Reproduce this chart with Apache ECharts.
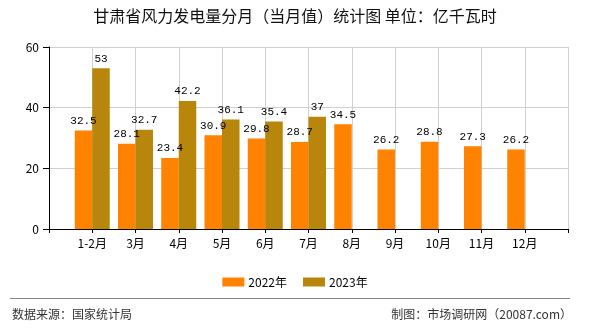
<!DOCTYPE html>
<html>
<head>
<meta charset="utf-8">
<script src="https://cdn.jsdelivr.net/npm/echarts@6/dist/echarts.min.js"></script>
<style>
html,body{margin:0;padding:0;background:#fff;}
#chart{width:590px;height:330px;}
</style>
</head>
<body>
<div id="chart"></div>
<script>
var categories = ['', '1-2月', '3月', '4月', '5月', '6月', '7月', '8月', '9月', '10月', '11月', '12月', ''];
var series2022 = ['-', 32.5, 28.1, 23.4, 30.9, 29.8, 28.7, 34.5, 26.2, 28.8, 27.3, 26.2, '-'];
var series2023 = ['-', 53, 32.7, 42.2, 36.1, 35.4, 37, '-', '-', '-', '-', '-', '-'];
var yTicks = [0, 20, 40, 60];

var CJK = '"Noto Sans CJK SC", "Noto Sans", sans-serif';
var chart = echarts.init(document.getElementById('chart'), null, {renderer: 'canvas'});
var labelStyle = {
  show: true, position: 'top', distance: 4,
  color: '#000', fontSize: 11, fontFamily: '"Liberation Mono", "DejaVu Sans Mono", monospace'
};
chart.setOption({
  animation: false,
  backgroundColor: '#fff',
  title: {
    text: '甘肃省风力发电量分月（当月值）统计图 单位：亿千瓦时',
    left: 'center', top: 8, padding: 0,
    textStyle: {fontSize: 16, fontWeight: 'normal', color: '#111', fontFamily: CJK}
  },
  legend: {
    data: ['2022年', '2023年'],
    left: 'center', top: 271,
    itemWidth: 22, itemHeight: 9, itemGap: 16,
    icon: 'rect',
    textStyle: {fontSize: 12, color: '#000', fontFamily: CJK, padding: [0, 0, 0, -1]}
  },
  grid: {left: 49, right: 22, top: 47, bottom: 101, containLabel: false},
  xAxis: {
    type: 'category',
    data: categories,
    boundaryGap: false,
    axisLine: {show: true, lineStyle: {color: '#000', width: 1}},
    axisTick: {show: true, length: 4, interval: 0, lineStyle: {color: '#000'}},
    axisLabel: {interval: 0, color: '#000', fontSize: 12, margin: 8, fontFamily: CJK},
    splitLine: {show: true, interval: 0, lineStyle: {color: '#d0d0d0', width: 1}}
  },
  yAxis: {
    type: 'value',
    min: yTicks[0], max: yTicks[yTicks.length - 1], interval: 20,
    axisLine: {show: true, lineStyle: {color: '#000', width: 1}},
    axisTick: {show: true, length: 6, lineStyle: {color: '#000'}},
    axisLabel: {color: '#000', fontSize: 12, margin: 10, fontFamily: CJK},
    splitLine: {show: true, lineStyle: {color: '#d0d0d0', width: 1}}
  },
  series: [
    {
      name: '2022年', type: 'bar', data: series2022,
      barWidth: 17.5, barGap: '0%',
      itemStyle: {color: '#FF8200'},
      label: labelStyle
    },
    {
      name: '2023年', type: 'bar', data: series2023,
      barWidth: 17.5, barGap: '0%',
      itemStyle: {color: '#B8860B'},
      label: labelStyle
    }
  ],
  graphic: [
    {type: 'line', shape: {x1: 10, y1: 298.5, x2: 570, y2: 298.5}, style: {stroke: '#888', lineWidth: 1}},
    {type: 'text', left: 12, top: 308, style: {text: '数据来源：国家统计局', fill: '#333', font: '12px ' + CJK}},
    {type: 'text', right: 18, top: 308, style: {text: '制图：市场调研网（20087.com）', fill: '#333', font: '12px ' + CJK}}
  ]
});
</script>
</body>
</html>
